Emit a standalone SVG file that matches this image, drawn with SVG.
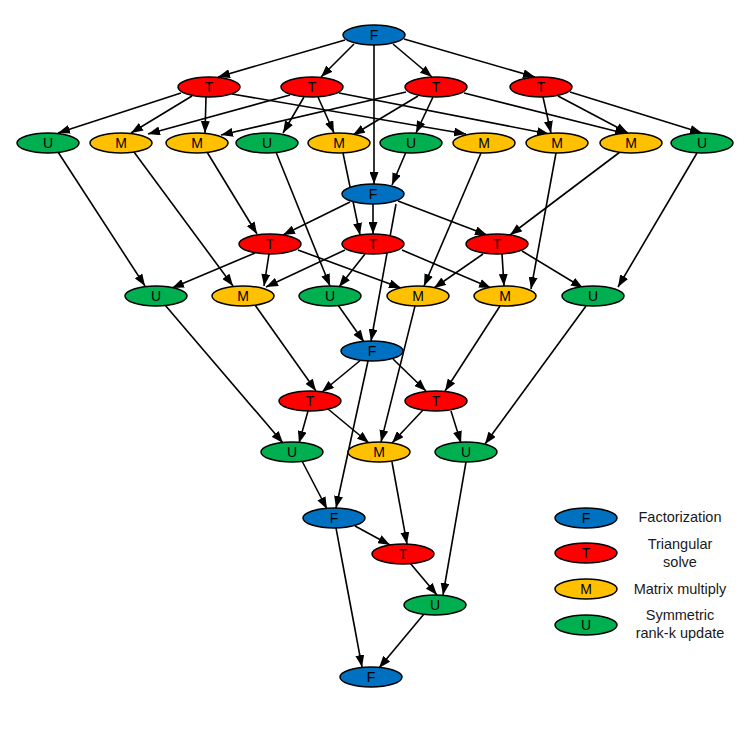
<svg xmlns="http://www.w3.org/2000/svg" width="753" height="751" viewBox="0 0 753 751">
<style>
.n{stroke:#000;stroke-width:1.5}
.F{fill:#0070C0}.T{fill:#FF0000}.M{fill:#FFC000}.U{fill:#00B050}
.lb{font-family:"Liberation Sans",Arial,sans-serif;font-size:14px;text-anchor:middle;fill:#000}
.lg{font-family:"Liberation Sans",Arial,sans-serif;font-size:14.5px;text-anchor:middle;fill:#1a1a1a}
#edges line{stroke:#000;stroke-width:1.6;marker-end:url(#ah)}
</style>
<defs>
<marker id="ah" markerUnits="userSpaceOnUse" markerWidth="12" markerHeight="9" refX="12" refY="4.5" orient="auto">
<path d="M0,0 L12,4.5 L0,9 z" fill="#000"/>
</marker>
</defs>
<rect width="753" height="751" fill="#fff"/>
<g id="edges">
<line x1="345" y1="40" x2="218" y2="77"/>
<line x1="354" y1="44" x2="321" y2="77"/>
<line x1="393" y1="44" x2="432" y2="77"/>
<line x1="404" y1="39" x2="535" y2="77"/>
<line x1="374" y1="45" x2="374" y2="184"/>
<line x1="181" y1="93" x2="58" y2="133"/>
<line x1="192" y1="96" x2="131" y2="133"/>
<line x1="206" y1="97" x2="205" y2="133"/>
<line x1="232" y1="94" x2="466" y2="134"/>
<line x1="290" y1="95" x2="148" y2="134"/>
<line x1="304" y1="97" x2="283" y2="133"/>
<line x1="318" y1="97" x2="334" y2="133"/>
<line x1="339" y1="93" x2="549" y2="134"/>
<line x1="406" y1="92" x2="221" y2="135"/>
<line x1="418" y1="96" x2="353" y2="135"/>
<line x1="433" y1="97" x2="416" y2="133"/>
<line x1="464" y1="93" x2="627" y2="134"/>
<line x1="543" y1="97" x2="551" y2="133"/>
<line x1="558" y1="96" x2="628" y2="133"/>
<line x1="570" y1="92" x2="702" y2="133"/>
<line x1="58" y1="152" x2="145" y2="286"/>
<line x1="134" y1="152" x2="233" y2="286"/>
<line x1="207" y1="152" x2="257" y2="234"/>
<line x1="276" y1="152" x2="330" y2="286"/>
<line x1="343" y1="153" x2="360" y2="235"/>
<line x1="406" y1="152" x2="392" y2="185"/>
<line x1="481" y1="153" x2="424" y2="286"/>
<line x1="556" y1="153" x2="531" y2="289"/>
<line x1="620" y1="152" x2="510" y2="235"/>
<line x1="697" y1="153" x2="618" y2="287"/>
<line x1="350" y1="202" x2="283" y2="235"/>
<line x1="373" y1="204" x2="373" y2="234"/>
<line x1="398" y1="201" x2="487" y2="235"/>
<line x1="396" y1="204" x2="371" y2="341"/>
<line x1="255" y1="253" x2="172" y2="288"/>
<line x1="269" y1="254" x2="264" y2="286"/>
<line x1="298" y1="250" x2="401" y2="288"/>
<line x1="345" y1="250" x2="266" y2="287"/>
<line x1="365" y1="254" x2="339" y2="287"/>
<line x1="402" y1="250" x2="491" y2="288"/>
<line x1="483" y1="254" x2="434" y2="288"/>
<line x1="502" y1="254" x2="504" y2="286"/>
<line x1="522" y1="251" x2="583" y2="288"/>
<line x1="165" y1="305" x2="283" y2="443"/>
<line x1="255" y1="305" x2="316" y2="391"/>
<line x1="338" y1="305" x2="364" y2="342"/>
<line x1="415" y1="306" x2="381" y2="442"/>
<line x1="500" y1="306" x2="445" y2="391"/>
<line x1="586" y1="306" x2="485" y2="444"/>
<line x1="362" y1="359" x2="322" y2="392"/>
<line x1="393" y1="359" x2="426" y2="391"/>
<line x1="368" y1="361" x2="336" y2="508"/>
<line x1="308" y1="411" x2="299" y2="443"/>
<line x1="328" y1="409" x2="369" y2="443"/>
<line x1="423" y1="410" x2="392" y2="443"/>
<line x1="451" y1="411" x2="461" y2="443"/>
<line x1="302" y1="461" x2="327" y2="509"/>
<line x1="392" y1="462" x2="407" y2="544"/>
<line x1="466" y1="462" x2="443" y2="595"/>
<line x1="355" y1="526" x2="390" y2="545"/>
<line x1="336" y1="528" x2="362" y2="667"/>
<line x1="410" y1="563" x2="437" y2="595"/>
<line x1="424" y1="614" x2="379" y2="668"/>
</g>
<g id="f0"><ellipse class="n F" cx="374" cy="35" rx="31" ry="10"/><text class="lb" x="374" y="40">F</text></g>
<g id="t1a"><ellipse class="n T" cx="209" cy="87" rx="31" ry="10"/><text class="lb" x="209" y="92">T</text></g>
<g id="t1b"><ellipse class="n T" cx="312" cy="87" rx="31" ry="10"/><text class="lb" x="312" y="92">T</text></g>
<g id="t1c"><ellipse class="n T" cx="436" cy="87" rx="31" ry="10"/><text class="lb" x="436" y="92">T</text></g>
<g id="t1d"><ellipse class="n T" cx="541" cy="87" rx="31" ry="10"/><text class="lb" x="541" y="92">T</text></g>
<g id="u2a"><ellipse class="n U" cx="48" cy="143" rx="31" ry="10"/><text class="lb" x="48" y="148">U</text></g>
<g id="m2a"><ellipse class="n M" cx="121" cy="143" rx="31" ry="10"/><text class="lb" x="121" y="148">M</text></g>
<g id="m2b"><ellipse class="n M" cx="197" cy="143" rx="31" ry="10"/><text class="lb" x="197" y="148">M</text></g>
<g id="u2b"><ellipse class="n U" cx="267" cy="143" rx="31" ry="10"/><text class="lb" x="267" y="148">U</text></g>
<g id="m2c"><ellipse class="n M" cx="339" cy="143" rx="31" ry="10"/><text class="lb" x="339" y="148">M</text></g>
<g id="u2c"><ellipse class="n U" cx="411" cy="143" rx="31" ry="10"/><text class="lb" x="411" y="148">U</text></g>
<g id="m2d"><ellipse class="n M" cx="484" cy="143" rx="31" ry="10"/><text class="lb" x="484" y="148">M</text></g>
<g id="m2e"><ellipse class="n M" cx="557" cy="143" rx="31" ry="10"/><text class="lb" x="557" y="148">M</text></g>
<g id="m2f"><ellipse class="n M" cx="631" cy="143" rx="31" ry="10"/><text class="lb" x="631" y="148">M</text></g>
<g id="u2d"><ellipse class="n U" cx="702" cy="143" rx="31" ry="10"/><text class="lb" x="702" y="148">U</text></g>
<g id="f1"><ellipse class="n F" cx="373" cy="194" rx="31" ry="10"/><text class="lb" x="373" y="199">F</text></g>
<g id="t4a"><ellipse class="n T" cx="270" cy="244" rx="31" ry="10"/><text class="lb" x="270" y="249">T</text></g>
<g id="t4b"><ellipse class="n T" cx="373" cy="244" rx="31" ry="10"/><text class="lb" x="373" y="249">T</text></g>
<g id="t4c"><ellipse class="n T" cx="497" cy="244" rx="31" ry="10"/><text class="lb" x="497" y="249">T</text></g>
<g id="u5a"><ellipse class="n U" cx="156" cy="296" rx="31" ry="10"/><text class="lb" x="156" y="301">U</text></g>
<g id="m5a"><ellipse class="n M" cx="243" cy="296" rx="31" ry="10"/><text class="lb" x="243" y="301">M</text></g>
<g id="u5b"><ellipse class="n U" cx="330" cy="296" rx="31" ry="10"/><text class="lb" x="330" y="301">U</text></g>
<g id="m5b"><ellipse class="n M" cx="418" cy="296" rx="31" ry="10"/><text class="lb" x="418" y="301">M</text></g>
<g id="m5c"><ellipse class="n M" cx="505" cy="296" rx="31" ry="10"/><text class="lb" x="505" y="301">M</text></g>
<g id="u5c"><ellipse class="n U" cx="593" cy="296" rx="31" ry="10"/><text class="lb" x="593" y="301">U</text></g>
<g id="f2"><ellipse class="n F" cx="372" cy="351" rx="31" ry="10"/><text class="lb" x="372" y="356">F</text></g>
<g id="t7a"><ellipse class="n T" cx="310" cy="401" rx="31" ry="10"/><text class="lb" x="310" y="406">T</text></g>
<g id="t7b"><ellipse class="n T" cx="436" cy="401" rx="31" ry="10"/><text class="lb" x="436" y="406">T</text></g>
<g id="u8a"><ellipse class="n U" cx="292" cy="452" rx="31" ry="10"/><text class="lb" x="292" y="457">U</text></g>
<g id="m8a"><ellipse class="n M" cx="379" cy="452" rx="31" ry="10"/><text class="lb" x="379" y="457">M</text></g>
<g id="u8b"><ellipse class="n U" cx="466" cy="452" rx="31" ry="10"/><text class="lb" x="466" y="457">U</text></g>
<g id="f3"><ellipse class="n F" cx="334" cy="518" rx="31" ry="10"/><text class="lb" x="334" y="523">F</text></g>
<g id="t10"><ellipse class="n T" cx="403" cy="554" rx="31" ry="10"/><text class="lb" x="403" y="559">T</text></g>
<g id="u11"><ellipse class="n U" cx="435" cy="605" rx="31" ry="10"/><text class="lb" x="435" y="610">U</text></g>
<g id="f4"><ellipse class="n F" cx="371" cy="677" rx="31" ry="10"/><text class="lb" x="371" y="682">F</text></g>
<g id="legend">
<g id="leg-f"><ellipse class="n F" cx="586" cy="518" rx="31" ry="10"/><text class="lb" x="586" y="523">F</text><text class="lg" x="680" y="522">Factorization</text></g>
<g id="leg-t"><ellipse class="n T" cx="586" cy="553" rx="31" ry="10"/><text class="lb" x="586" y="558">T</text><text class="lg" x="680" y="549">Triangular</text><text class="lg" x="680" y="567">solve</text></g>
<g id="leg-m"><ellipse class="n M" cx="586" cy="589" rx="31" ry="10"/><text class="lb" x="586" y="594">M</text><text class="lg" x="680" y="594">Matrix multiply</text></g>
<g id="leg-u"><ellipse class="n U" cx="586" cy="625" rx="31" ry="10"/><text class="lb" x="586" y="630">U</text><text class="lg" x="680" y="620">Symmetric</text><text class="lg" x="680" y="638">rank-k update</text></g>
</g>
</svg>
